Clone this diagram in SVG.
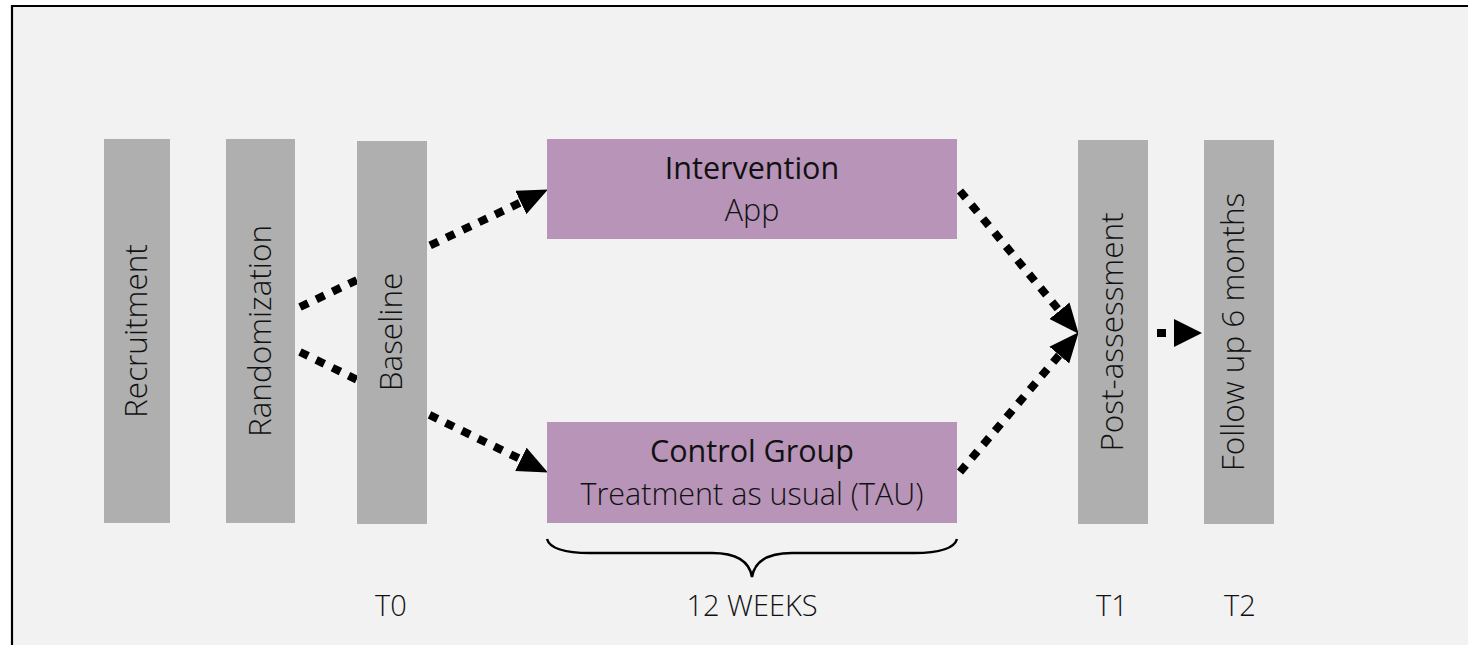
<svg xmlns="http://www.w3.org/2000/svg" width="1468" height="645" viewBox="0 0 1468 645">
  <style>
    .stage { fill: #afafaf; }
    .arm { fill: #b794b8; }
    .vlabel { font-family: "Open Sans", "Liberation Sans", sans-serif; font-size: 31.5px; font-weight: 300; fill: #111; text-anchor: middle; }
    .title { font-family: "Open Sans", "Liberation Sans", sans-serif; font-size: 30.5px; font-weight: 400; fill: #111; text-anchor: middle; }
    .sub { font-family: "Open Sans", "Liberation Sans", sans-serif; font-size: 30.5px; font-weight: 300; fill: #111; text-anchor: middle; }
    .time { font-family: "Open Sans", "Liberation Sans", sans-serif; font-size: 29px; font-weight: 300; fill: #111; text-anchor: middle; }
    .dotted { fill: none; stroke: #000; stroke-width: 8; stroke-dasharray: 9 9; }
  </style>
  <defs>
    <marker id="head" markerUnits="userSpaceOnUse" viewBox="0 0 30 26" markerWidth="30" markerHeight="26" refX="1" refY="13" orient="auto">
      <path d="M0,0 L30,13 L0,26 Z" fill="#000"/>
    </marker>
    <marker id="headS" markerUnits="userSpaceOnUse" viewBox="0 0 28 28" markerWidth="28" markerHeight="28" refX="1" refY="14" orient="auto">
      <path d="M0,0 L28,14 L0,28 Z" fill="#000"/>
    </marker>
  </defs>

  <rect x="0" y="0" width="1468" height="645" fill="#ffffff"/>
  <rect x="12" y="6" width="1456" height="639" fill="#f2f2f2"/>
  <path d="M12,645 L12,6 L1468,6" fill="none" stroke="#000" stroke-width="2.2"/>

  <g id="connectors">
    <path class="dotted" d="M300,307 L521.7,202" marker-end="url(#head)"/>
    <path class="dotted" d="M300,352 L521.8,459.8" marker-end="url(#head)"/>
    <path class="dotted" d="M960,191 L1060.1,311.5" marker-end="url(#head)" stroke-dasharray="9 10"/>
    <path class="dotted" d="M960,472 L1059.9,354.3" marker-end="url(#head)" stroke-dasharray="9 10"/>
    <path class="dotted" d="M1157,333 L1175,333" stroke-dasharray="10 10" marker-end="url(#headS)"/>
  </g>

  <g id="recruitment">
    <rect class="stage" x="104" y="139" width="66" height="384"/>
    <text class="vlabel" transform="translate(147,331) rotate(-90)">Recruitment</text>
  </g>
  <g id="randomization">
    <rect class="stage" x="226" y="139" width="69" height="384"/>
    <text class="vlabel" transform="translate(271,331) rotate(-90)">Randomization</text>
  </g>
  <g id="baseline">
    <rect class="stage" x="357" y="141" width="70" height="383"/>
    <text class="vlabel" transform="translate(402,332) rotate(-90)">Baseline</text>
  </g>
  <g id="intervention">
    <rect class="arm" x="547" y="139" width="410" height="100"/>
    <text class="title" x="752" y="179">Intervention</text>
    <text class="sub" x="752" y="221">App</text>
  </g>
  <g id="control">
    <rect class="arm" x="547" y="422" width="410" height="101"/>
    <text class="title" x="752" y="462">Control Group</text>
    <text class="sub" x="752" y="505">Treatment as usual (TAU)</text>
  </g>
  <g id="post-assessment">
    <rect class="stage" x="1078" y="140" width="70" height="384"/>
    <text class="vlabel" transform="translate(1123,332) rotate(-90)">Post-assessment</text>
  </g>
  <g id="follow-up">
    <rect class="stage" x="1204" y="140" width="70" height="384"/>
    <text class="vlabel" transform="translate(1244,332) rotate(-90)">Follow up 6 months</text>
  </g>

  <g id="brace">
    <path d="M547,539 Q551,553 590,553 L712,553 Q748,553 752,577 Q756,553 792,553 L914,553 Q953,553 957,539" fill="none" stroke="#000" stroke-width="2.5"/>
  </g>

  <g id="timeline">
    <text class="time" x="391" y="616">T0</text>
    <text class="time" x="752" y="616">12 WEEKS</text>
    <text class="time" x="1112" y="616">T1</text>
    <text class="time" x="1240" y="616">T2</text>
  </g>
</svg>
